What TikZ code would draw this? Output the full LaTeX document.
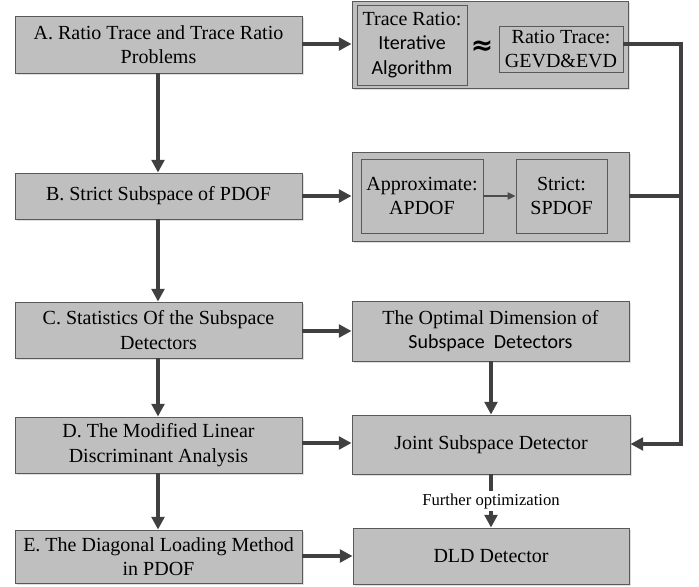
\documentclass[tikz,border=0pt]{standalone}
\usepackage{fontspec}
\setmainfont{Liberation Serif}
\newfontfamily\carl{Carlito}
\newfontfamily\djv{DejaVu Sans}
\usetikzlibrary{shadows,arrows.meta}
\begin{document}
\begin{tikzpicture}[x=0.75pt,y=-0.75pt,
  base/.style={draw=black!65, fill=black!25, line width=0.7pt, inner sep=0pt, align=center,
    font=\fontsize{15}{18.4}\selectfont, anchor=center},
  box/.style={base, drop shadow={shadow xshift=1.6pt, shadow yshift=-1.6pt, fill=black!35, opacity=0.35}},
  inbox/.style={base},
  rect/.style args={#1/#2/#3/#4}{minimum width={(#3-#1)*0.75pt}, minimum height={(#4-#2)*0.75pt}},
  arr/.style={draw=black!75, line width=2.6pt, -{Triangle[length=9.5pt,width=9.5pt]}},
  thinarr/.style={draw=black!70, line width=0.9pt, -{Triangle[length=6pt,width=5.5pt]}},
  ln/.style={draw=black!75, line width=2.6pt},
  lbl/.style={fill=white, inner sep=1.5pt, font=\fontsize{12.5}{14}\selectfont},
]
\useasboundingbox (0,0) rectangle (699,586);
% left column
\node[box, rect=15/16/302/73] (A) at (158.5,44.5) {A. Ratio Trace and Trace Ratio\\Problems};
\node[box, rect=15/173/302/219] (B) at (158.5,196) {B. Strict Subspace of PDOF};
\node[box, rect=15/302/302/358] (C) at (158.5,330) {C. Statistics Of the Subspace\\Detectors};
\node[box, rect=15/417/302/473] (D) at (158.5,445) {D. The Modified Linear\\Discriminant Analysis};
\node[box, rect=15/530/302/583] (E) at (158.5,556.5) {E. The Diagonal Loading Method\\in PDOF};
% right column
\node[box, rect=352/1/628/88] (G1) at (490,44.5) {};
\node[inbox, rect=357/5/467/85] (TR) at (412,45) {Trace Ratio:\\{\carl Iterative}\\{\carl Algorithm}};
\node[font=\djv\bfseries\fontsize{20}{20}\selectfont, inner sep=0pt] (approx) at (482,48) {≈};
\node[inbox, rect=499/26/623/72] (RT) at (561,49) {Ratio Trace:\\GEVD\&EVD};
\node[box, rect=352/152/629/241] (G2) at (490.5,196.5) {};
\node[inbox, rect=361/159/483/233] (AP) at (422,196) {Approximate:\\APDOF};
\node[inbox, rect=516/159/607/233] (SP) at (561.5,196) {Strict:\\SPDOF};
\node[box, rect=352/301/629/361] (OPT) at (490.5,331) {The Optimal Dimension of\\{\carl Subspace\ \ Detectors}};
\node[box, rect=352/415/630/474] (J) at (491,444.5) {Joint Subspace Detector};
\node[box, rect=353/528/629/584] (DLD) at (491,556) {DLD Detector};
% coordinates
\coordinate (xl) at (158,0);
\coordinate (xr) at (491,0);
\coordinate (xv) at (681,0);
% vertical arrows left
\draw[arr] (A.south -| xl) -- (B.north -| xl);
\draw[arr] (B.south -| xl) -- (C.north -| xl);
\draw[arr] (C.south -| xl) -- (D.north -| xl);
\draw[arr] (D.south -| xl) -- (E.north -| xl);
% horizontal arrows
\draw[arr] (A.east |- 0,44) -- (G1.west |- 0,44);
\draw[arr] (B.east |- 0,196) -- (G2.west |- 0,196);
\draw[arr] (C.east |- 0,331) -- (OPT.west |- 0,331);
\draw[arr] (D.east |- 0,443) -- (J.west |- 0,443);
\draw[arr] (E.east |- 0,556) -- (DLD.west |- 0,556);
\draw[thinarr] (AP.east |- 0,196) -- (SP.west |- 0,196);
% right column vertical
\draw[arr] (OPT.south -| xr) -- (J.north -| xr);
\draw[arr] (J.south -| xr) -- node[lbl] {Further optimization} (DLD.north -| xr);
% feedback line
\draw[ln] (RT.east |- 0,44) -- (xv |- 0,44) -- (xv |- 0,196);
\draw[ln] (G2.east |- 0,196) -- (xv |- 0,196);
\draw[arr] (xv |- 0,196) -- (xv |- 0,444) -- (J.east |- 0,444);
\end{tikzpicture}
\end{document}
